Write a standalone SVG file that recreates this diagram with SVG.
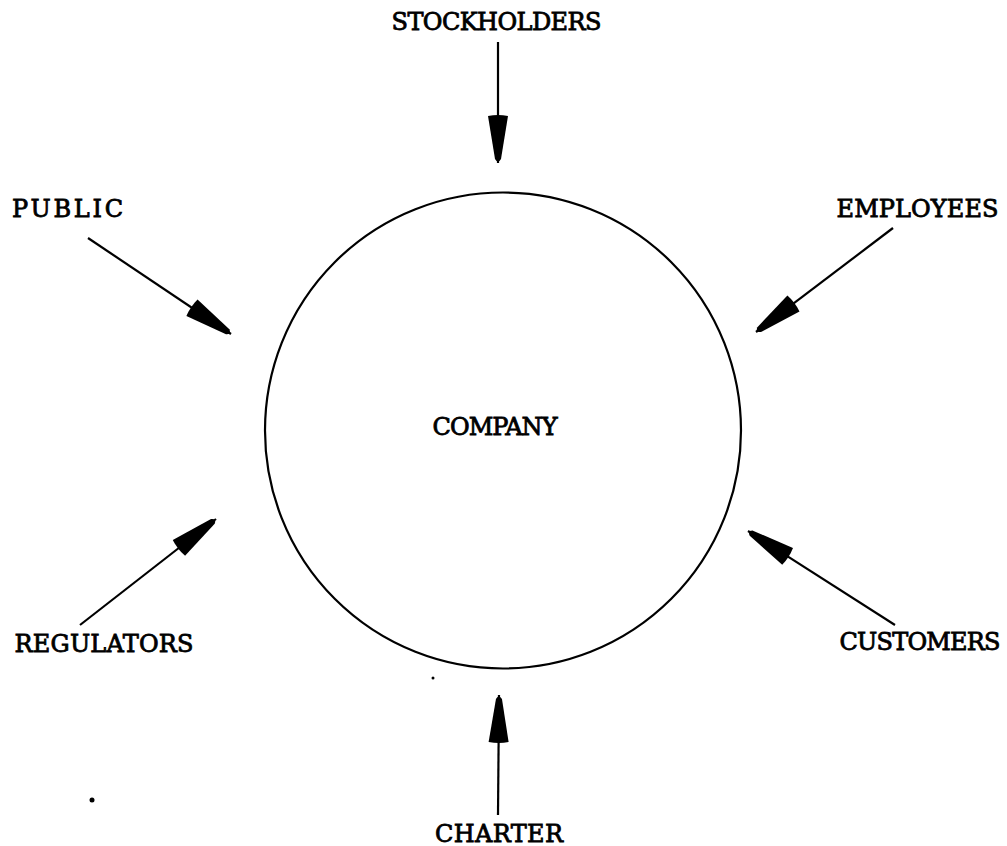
<svg xmlns="http://www.w3.org/2000/svg" width="1007" height="846" viewBox="0 0 1007 846">
<style>
  .lbl { font-family: "DejaVu Serif", "Liberation Serif", serif; font-size: 24px; fill: #000; text-anchor: middle; stroke: #000; stroke-width: 0.8; }
  .conn { stroke: #000; stroke-width: 2.2; fill: none; marker-end: url(#head); }
</style>
<defs>
  <marker id="head" viewBox="0 0 50 22" refX="49" refY="11" markerWidth="50" markerHeight="22" markerUnits="userSpaceOnUse" orient="auto">
    <path d="M2,1 L45,8 Q50,11 45,14 L2,21 Q0,11 2,1 Z" fill="#000"/>
  </marker>
</defs>
<rect width="1007" height="846" fill="#fff"/>
<g id="company">
  <circle cx="503" cy="430.5" r="238" fill="none" stroke="#000" stroke-width="2.2"/>
  <text class="lbl" x="495" y="435" textLength="125">COMPANY</text>
</g>
<g id="stockholders"><text class="lbl" x="496.5" y="30" textLength="210">STOCKHOLDERS</text></g>
<g id="public"><text class="lbl" x="67.5" y="217" textLength="111">PUBLIC</text></g>
<g id="employees"><text class="lbl" x="917.5" y="217" textLength="162">EMPLOYEES</text></g>
<g id="regulators"><text class="lbl" x="104" y="652" textLength="179">REGULATORS</text></g>
<g id="customers"><text class="lbl" x="920" y="650" textLength="161">CUSTOMERS</text></g>
<g id="charter"><text class="lbl" x="499" y="842" textLength="128">CHARTER</text></g>
<g id="connectors">
  <path class="conn" d="M498,42 L498,163"/>
  <path class="conn" d="M88,238 L231,334"/>
  <path class="conn" d="M893,228 L756,332"/>
  <path class="conn" d="M80,625 L216,519"/>
  <path class="conn" d="M895,625 L748,531"/>
  <path class="conn" d="M498,815 L499,695"/>
</g>
<circle cx="92" cy="800" r="2.5" fill="#000"/>
<circle cx="433" cy="678" r="1.5" fill="#000"/>
</svg>
